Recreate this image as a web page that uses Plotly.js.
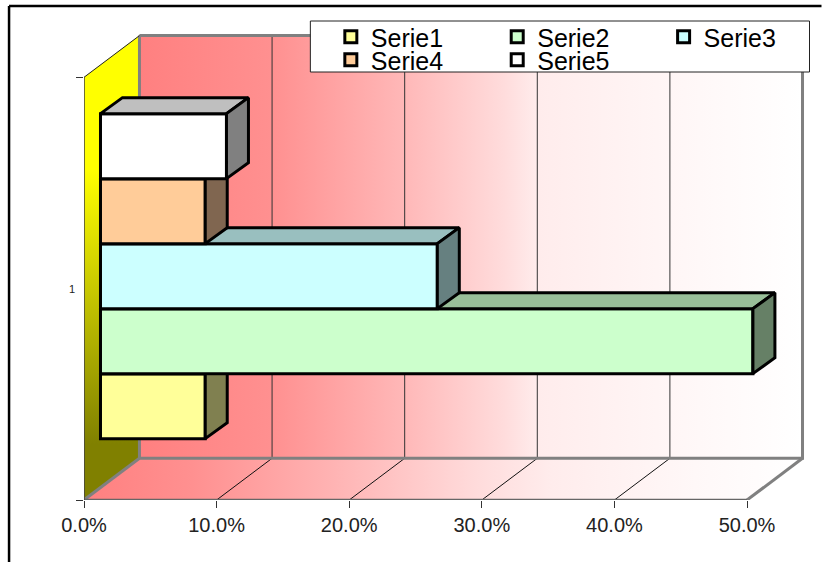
<!DOCTYPE html>
<html><head><meta charset="utf-8">
<script src="https://cdn.plot.ly/plotly-3.0.1.min.js"></script>
<style>html,body{margin:0;padding:0;background:#fff}</style></head>
<body><div id="chart" style="width:822px;height:562px"></div>
<script>
const seriesNames = ['Serie1','Serie2','Serie3','Serie4','Serie5'];
const seriesValues = [7.9, 49.2, 25.4, 7.9, 9.5];
const frontColors = ['#FFFF99','#CCFFCC','#CCFFFF','#FFCC99','#FFFFFF'];
const sideColors = ['#808050','#668066','#668080','#806650','#808080'];
const topColors = ['#BFBF73','#99BF99','#99BFBF','#BF9973','#BFBFBF'];
const xTicks = [0,10,20,30,40,50];

const PXX = 13.27, PXY = 422.7;       // pixels per axis unit
const L = 84, T = 25, W = 728.5, H = 475;
const wallDX = 55.5/PXX, wallDY = 41.7/PXY;
const barDX = 22/PXX, barDY = 16/PXY;
const offDX = 16.5/PXX, offDY = 12.5/PXY;
const barH = 65/PXY;
const Y0 = 0.5, Y1 = 1.5, XMAX = 50;
const xRange = [0, W/PXX], yRange = [Y0, Y0 + H/PXY];
const px = v => (v-L)/W, py = v => (T+H-v)/H;

const traces = [];
const poly = (x,y,o) => traces.push(Object.assign({type:'scatter',mode:'lines',x,y,fill:'toself',
  showlegend:false,hoverinfo:'skip',cliponaxis:false,line:{width:0}},o));
const stroke = (x,y,color,width) => traces.push({type:'scatter',mode:'lines',x,y,showlegend:false,hoverinfo:'skip',
  cliponaxis:false,line:{color,width}});

const wallStops = [[0,'#ff8080'],[0.2,'#ff9090'],[0.4,'#ffb8b8'],[0.55,'#ffdcdc'],[0.6,'#ffecec'],[0.8,'#fff6f6'],[1,'#ffffff']];
const floorStops = [[0,'#ff8080'],[0.15,'#ff9090'],[0.35,'#ffb4b4'],[0.55,'#ffdcdc'],[0.65,'#ffecec'],[0.85,'#fff8f8'],[1,'#ffffff']];

// back wall
poly([wallDX,XMAX+wallDX,XMAX+wallDX,wallDX,wallDX],[Y0+wallDY,Y0+wallDY,Y1+wallDY,Y1+wallDY,Y0+wallDY],
  {fillgradient:{type:'horizontal',colorscale:wallStops}});
// floor
poly([0,XMAX,XMAX+wallDX,wallDX,0],[Y0,Y0,Y0+wallDY,Y0+wallDY,Y0],
  {fillgradient:{type:'horizontal',colorscale:floorStops}});
// side wall
poly([0,wallDX,wallDX,0,0],[Y0,Y0+wallDY,Y1+wallDY,Y1,Y0],
  {fillgradient:{type:'vertical',colorscale:[[0,'#808000'],[0.12,'#808000'],[0.71,'#ffff00'],[1,'#ffff00']]}});

// grid lines on wall and floor
const gx = [], gy = [], fx = [], fy = [];
xTicks.slice(1,-1).forEach(t=>{
  gx.push(t+wallDX,t+wallDX,null); gy.push(Y0+wallDY,Y1+wallDY,null);
  fx.push(t,t+wallDX,null); fy.push(Y0,Y0+wallDY,null);
});
stroke(gx,gy,'#333333',1);
stroke(fx,fy,'#111111',1);
// wall outlines
stroke([wallDX,XMAX+wallDX,XMAX+wallDX,wallDX,wallDX],[Y1+wallDY,Y1+wallDY,Y0+wallDY,Y0+wallDY,Y1+wallDY],'#808080',3);
stroke([XMAX,XMAX+wallDX],[Y0,Y0+wallDY],'#808080',3);
stroke([0,wallDX],[Y0,Y0+wallDY],'#808080',3);
stroke([0,XMAX],[Y0,Y0],'#666666',2.5);
stroke([0,0],[Y0,Y1],'#404040',1.5);
stroke([0,wallDX],[Y1,Y1+wallDY],'#222222',1);

// bars
const font = 'Liberation Sans, Arial, sans-serif';
const legendColsPx = [351, 517.5, 684], legendRowsPx = [14, 37];
const layoutAxes = {};
seriesValues.forEach((v,i)=>{
  const n = i+2, xa='x'+n, ya='y'+n;
  layoutAxes['xaxis'+n] = {overlaying:'x',range:xRange,visible:false,fixedrange:true};
  layoutAxes['yaxis'+n] = {overlaying:'y',range:yRange,visible:false,fixedrange:true};
  const lid = i===0?'legend':'legend'+(i+1);
  layoutAxes[lid] = {xanchor:'left',yanchor:'top',bgcolor:'rgba(0,0,0,0)',borderwidth:0,
    font:{family:font,size:25,color:'#000'},
    x:px(legendColsPx[i%3]-20),y:py(legendRowsPx[Math.floor(i/3)])};
  const yc = 1 + offDY + (i-2)*barH;
  const yb = yc-barH/2, yt = yc+barH/2, xl = offDX, xr = offDX+v;
  traces.push({type:'bar',orientation:'h',name:seriesNames[i],x:[v],base:[offDX],y:[yc],width:[barH],
    xaxis:xa,yaxis:ya,legend:lid,showlegend:true,hoverinfo:'skip',
    marker:{color:frontColors[i],line:{color:'#000',width:3}}});
  const o = {xaxis:xa,yaxis:ya,line:{color:'#000',width:3}};
  poly([xl,xr,xr+barDX,xl+barDX,xl],[yt,yt,yt+barDY,yt+barDY,yt],Object.assign({fillcolor:topColors[i]},o));
  poly([xr,xr+barDX,xr+barDX,xr,xr],[yb,yb+barDY,yt+barDY,yt,yb],Object.assign({fillcolor:sideColors[i]},o));
});

const layout = Object.assign({
  width:822,height:562,margin:{l:L,r:822-L-W,t:T,b:562-T-H,pad:0},
  paper_bgcolor:'#fff',plot_bgcolor:'rgba(0,0,0,0)',barmode:'overlay',
  font:{family:font,color:'#222'},
  xaxis:{range:xRange,tickmode:'array',tickvals:xTicks,ticktext:xTicks.map(t=>t.toFixed(1)+'%'),
    showgrid:false,zeroline:false,showline:false,ticks:'outside',ticklen:7,tickwidth:1,tickcolor:'#333',
    tickfont:{family:font,size:20,color:'#222'},fixedrange:true},
  yaxis:{range:yRange,tickmode:'array',tickvals:[1],ticktext:['1'],showgrid:false,zeroline:false,showline:false,
    ticks:'',tickfont:{family:font,size:11,color:'#222222'},ticklabelstandoff:8,fixedrange:true,
    minor:{tickmode:'array',tickvals:[Y0,Y1],ticks:'outside',ticklen:7,tickwidth:1,tickcolor:'#333'}},
  shapes:[
    {type:'rect',layer:'above',xref:'paper',yref:'paper',x0:px(310.5),x1:px(810),y0:py(21),y1:py(72),fillcolor:'#fff',line:{color:'#222',width:1}},
    {type:'line',layer:'above',xref:'paper',yref:'paper',x0:px(9),x1:px(9),y0:py(6),y1:py(562),line:{color:'#000',width:2.5}},
    {type:'line',layer:'above',xref:'paper',yref:'paper',x0:px(9),x1:px(822),y0:py(6),y1:py(6),line:{color:'#000',width:2.5}}
  ]
},layoutAxes);
Plotly.newPlot('chart',traces,layout,{displayModeBar:false,responsive:false});
</script></body></html>
